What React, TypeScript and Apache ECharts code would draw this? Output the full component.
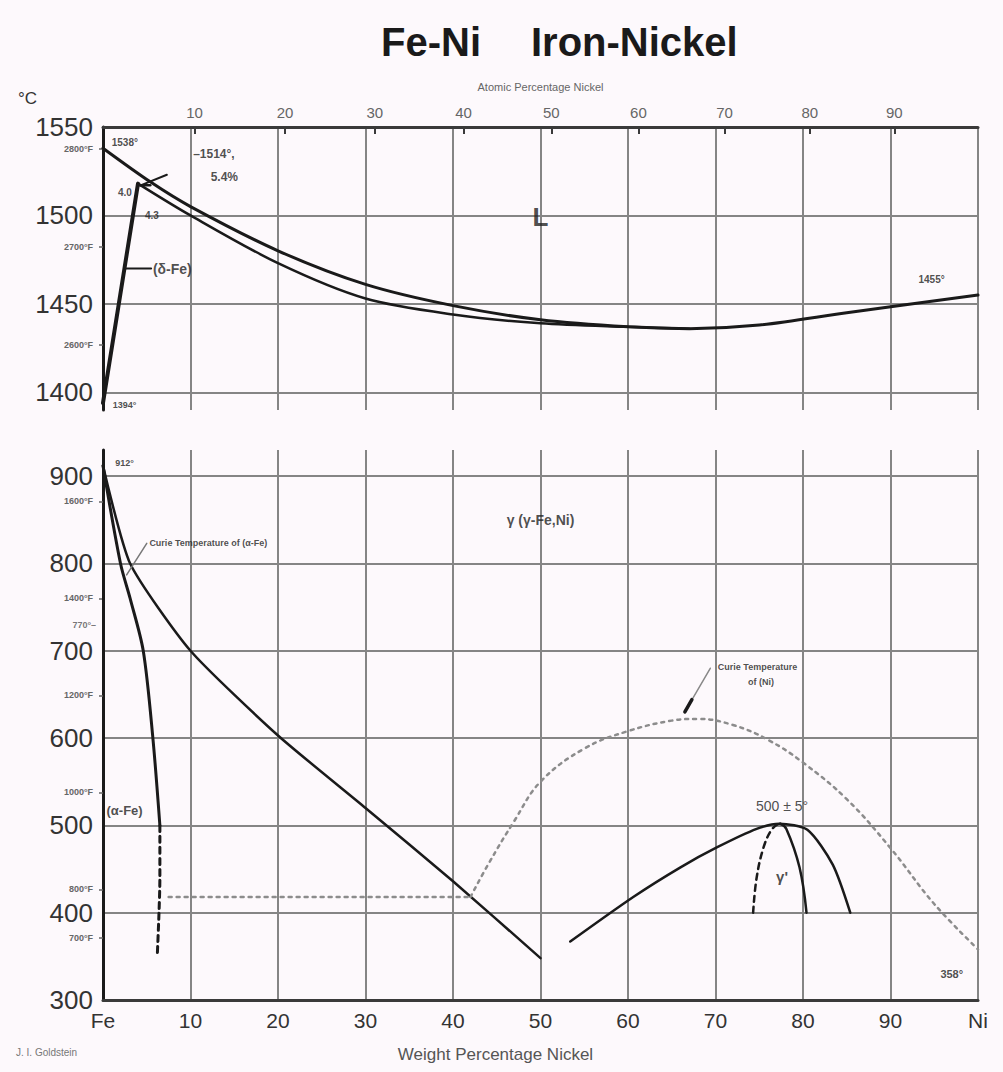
import React, { useEffect, useRef } from "react";
import * as echarts from "echarts";

// ---------- data ----------
const weightTicks = [0, 10, 20, 30, 40, 50, 60, 70, 80, 90, 100];
const weightTickLabels = ["Fe", "10", "20", "30", "40", "50", "60", "70", "80", "90", "Ni"];
const atomicTicks = [10, 20, 30, 40, 50, 60, 70, 80, 90];
const upperTempTicks = [1400, 1450, 1500, 1550];
const lowerTempTicks = [300, 400, 500, 600, 700, 800, 900];
const upperFahrenheitTicks = [2800, 2700, 2600];
const lowerFahrenheitTicks = [1600, 1400, 1200, 1000, 800, 700];

// upper panel (°C vs wt% Ni)
const liquidus = [[0, 1538], [5.4, 1519], [10, 1505], [20, 1480], [30, 1461], [40, 1449], [50, 1441], [60, 1437], [67, 1436], [75, 1438], [85, 1445], [100, 1455]];
const solidus = [[4.0, 1518], [10, 1500], [20, 1473], [30, 1453], [40, 1444], [50, 1439], [60, 1437], [67, 1436]];
const deltaBoundary = [[0, 1394], [4.0, 1518]];
const peritectic = [[4.0, 1517], [5.4, 1517]];
const peritecticLeader = [[4.3, 1517], [7.3, 1523]];
const deltaLeader = [[2.5, 1470], [5.5, 1470]];

// lower panel
const gammaBoundary = [[0, 912], [3.1, 800], [10, 700], [20, 603], [30, 520], [40, 436], [50, 348]];
const alphaBoundary = [[0, 912], [2, 800], [3.1, 760], [4.6, 700], [5.7, 600], [6.5, 500]];
const alphaBoundaryDashed = [[6.5, 500], [6.5, 440], [6.4, 400], [6.2, 350]];
const magneticLow = [[7.5, 418], [42, 418]];
const curieNickel = [[42, 418], [44, 455], [47, 505], [50, 550], [55, 588], [60, 608], [65, 620], [68, 622], [72, 615], [76, 598], [80, 572], [85, 530], [90, 474], [95, 410], [100, 358]];
const orderOuter = [[53.4, 367], [60.6, 418], [66, 452], [70.2, 475], [74.7, 496], [77.3, 502], [80.5, 495], [83.4, 455], [85.4, 400]];
const orderInnerLeft = [[74.3, 400], [74.7, 440], [75.5, 475], [76.4, 495], [77.2, 502]];
const orderInnerRight = [[77.4, 502], [78.1, 496], [79.6, 452], [80.4, 400]];
const alphaCurieLeader = [[2.7, 787], [5.0, 823]];
const nickelCurieLeader = [[66.5, 630], [69.4, 680]];
const nickelCurieArrow = [[66.5, 630], [67.3, 644]];
const fe770Leader = [[-0.9, 743], [0, 760]];

// ---------- helpers ----------
const toWeight = (a: number) => (a * 58.69) / (a * 58.69 + (100 - a) * 55.845) * 100;
const atomicAsWeight = atomicTicks.map(toWeight);
const fToC = (f: number) => ((f - 32) * 5) / 9;
const upperF = upperFahrenheitTicks.map(fToC);
const lowerF = lowerFahrenheitTicks.map(fToC);

const FONT = "Liberation Sans";
const GRID = "#858585";
const DARK = "#3a3a3a";
const INK = "#1a1a1a";

function line(g: number, data: number[][], width: number, opts: any = {}) {
  return {
    type: "line",
    xAxisIndex: g === 0 ? 0 : 2,
    yAxisIndex: g === 0 ? 0 : 2,
    data,
    symbol: "none",
    showSymbol: false,
    silent: true,
    clip: false,
    smooth: opts.smooth ?? 0,
    z: opts.z ?? 5,
    lineStyle: { color: opts.color ?? INK, width, type: opts.type ?? "solid", cap: "round" },
  };
}

function note(g: number, x: number, y: number, text: string, pos: string, size: number, extra: any = {}) {
  return {
    type: "scatter",
    xAxisIndex: g === 0 ? 0 : 2,
    yAxisIndex: g === 0 ? 0 : 2,
    data: [[x, y]],
    symbolSize: 0,
    silent: true,
    clip: false,
    z: 10,
    label: {
      show: true,
      position: pos,
      distance: 0,
      formatter: text,
      fontFamily: FONT,
      fontSize: size,
      color: extra.color ?? "#222",
      fontWeight: extra.fontWeight ?? "normal",
      lineHeight: extra.lineHeight ?? size + 2,
    },
  };
}

const plain = (v: number) => String(Math.round(v));

function buildOption(): any {
  const titleStyle = { fontFamily: FONT, fontWeight: "bold", fontSize: 40, color: INK };
  return {
    animation: false,
    backgroundColor: "#fdf9fc",
    title: [
      { text: "Fe-Ni", left: 376, top: 17, textStyle: titleStyle },
      { text: "Iron-Nickel", left: 526, top: 17, textStyle: titleStyle },
    ],
    graphic: [
      { type: "text", left: 18, top: 90, style: { text: "°C", fontFamily: FONT, fontSize: 17, fill: "#333" } },
      { type: "text", left: 16, top: 1047, style: { text: "J. I. Goldstein", fontFamily: FONT, fontSize: 10, fill: "#777" } },
    ],
    grid: [
      { left: 103, width: 875, top: 127, height: 283 },
      { left: 103, width: 875, top: 450, height: 550 },
    ],
    xAxis: [
      {
        type: "value", gridIndex: 0, min: 0, max: 100, interval: 10, position: "bottom",
        axisLine: { show: false }, axisTick: { show: false }, axisLabel: { show: false },
        splitLine: { show: true, lineStyle: { color: GRID, width: 2 } },
      },
      {
        type: "value", gridIndex: 0, min: 0, max: 100, position: "top",
        axisLine: { show: true, onZero: false, lineStyle: { color: DARK, width: 3 } },
        axisTick: { show: true, inside: true, length: 7, customValues: atomicAsWeight, lineStyle: { color: DARK, width: 2 } },
        axisLabel: {
          customValues: atomicAsWeight, margin: 7, fontFamily: FONT, fontSize: 15, color: "#666",
          formatter: (v: number) => {
            const i = atomicAsWeight.findIndex((w) => Math.abs(w - v) < 1e-6);
            return i >= 0 ? String(atomicTicks[i]) : "";
          },
        },
        splitLine: { show: false },
        name: "Atomic Percentage Nickel", nameLocation: "middle", nameGap: 35,
        nameTextStyle: { fontFamily: FONT, fontSize: 11, color: "#666" },
      },
      {
        type: "value", gridIndex: 1, min: 0, max: 100, interval: 10, position: "bottom",
        axisLine: { show: true, onZero: false, lineStyle: { color: DARK, width: 3 } },
        axisTick: { show: false },
        axisLabel: {
          margin: 10, fontFamily: FONT, fontSize: 21, color: "#333",
          formatter: (v: number) => {
            const i = weightTicks.indexOf(Math.round(v));
            return i >= 0 ? weightTickLabels[i] : "";
          },
        },
        splitLine: { show: true, lineStyle: { color: GRID, width: 2 } },
        name: "Weight Percentage Nickel", nameLocation: "middle", nameGap: 46,
        nameTextStyle: { fontFamily: FONT, fontSize: 17, color: "#555", padding: [0, 90, 0, 0] },
      },
    ],
    yAxis: [
      {
        type: "value", gridIndex: 0, min: 1390, max: 1550, position: "left",
        axisLine: { show: true, onZero: false, lineStyle: { color: INK, width: 3 } },
        axisTick: { show: false, customValues: upperTempTicks },
        axisLabel: { customValues: upperTempTicks, margin: 10, fontFamily: FONT, fontSize: 26, color: "#333", formatter: plain },
        splitLine: { show: true, lineStyle: { color: GRID, width: 2 } },
      },
      {
        type: "value", gridIndex: 0, min: 1390, max: 1550, position: "left",
        axisLine: { show: false },
        axisTick: { show: true, length: 4, customValues: upperF, lineStyle: { color: "#666", width: 1.5 } },
        axisLabel: {
          customValues: upperF, margin: 10, fontFamily: FONT, fontSize: 9, fontWeight: "bold", color: "#666",
          formatter: (v: number) => Math.round((v * 9) / 5 + 32) + "°F",
        },
        splitLine: { show: false },
      },
      {
        type: "value", gridIndex: 1, min: 300, max: 930, position: "left",
        axisLine: { show: true, onZero: false, lineStyle: { color: INK, width: 3 } },
        axisTick: { show: false, customValues: lowerTempTicks },
        axisLabel: { customValues: lowerTempTicks, margin: 10, fontFamily: FONT, fontSize: 26, color: "#333", formatter: plain },
        splitLine: { show: true, lineStyle: { color: GRID, width: 2 } },
      },
      {
        type: "value", gridIndex: 1, min: 300, max: 930, position: "left",
        axisLine: { show: false },
        axisTick: { show: true, length: 4, customValues: lowerF, lineStyle: { color: "#666", width: 1.5 } },
        axisLabel: {
          customValues: lowerF, margin: 10, fontFamily: FONT, fontSize: 9, fontWeight: "bold", color: "#666",
          formatter: (v: number) => Math.round((v * 9) / 5 + 32) + "°F",
        },
        splitLine: { show: false },
      },
    ],
    series: [
      // upper panel
      line(0, liquidus, 3, { smooth: 0.3 }),
      line(0, solidus, 2.5, { smooth: 0.3 }),
      line(0, deltaBoundary, 4),
      line(0, peritectic, 2.5),
      line(0, peritecticLeader, 2),
      line(0, deltaLeader, 2),
      note(0, 1.0, 1541, "1538°", "right", 10, { fontWeight: "bold" }),
      note(0, 3.3, 1513, "4.0", "left", 10, { fontWeight: "bold" }),
      note(0, 4.8, 1500, "4.3", "right", 10, { fontWeight: "bold" }),
      note(0, 10.3, 1535, "–1514°,", "right", 12, { fontWeight: "bold" }),
      note(0, 12.3, 1522, "5.4%", "right", 12, { fontWeight: "bold" }),
      note(0, 5.7, 1470, "(δ-Fe)", "right", 14, { fontWeight: "bold" }),
      note(0, 50, 1499, "L", "inside", 26, { fontWeight: "bold" }),
      note(0, 93.2, 1464, "1455°", "right", 10, { fontWeight: "bold" }),
      note(0, 1.1, 1393, "1394°", "right", 9, { fontWeight: "bold" }),
      // lower panel
      line(1, gammaBoundary, 2.5, { smooth: 0.2 }),
      line(1, alphaBoundary, 3, { smooth: 0.3 }),
      line(1, alphaBoundaryDashed, 3, { type: [6, 5], smooth: 0.3 }),
      line(1, magneticLow, 2.5, { color: "#8c8c8c", type: [3, 5] }),
      line(1, curieNickel, 2.5, { color: "#8c8c8c", type: [3, 5], smooth: 0.4 }),
      line(1, orderOuter, 2.5, { smooth: 0.25 }),
      line(1, orderInnerLeft, 2.5, { type: [6, 5], smooth: 0.4 }),
      line(1, orderInnerRight, 2.5, { smooth: 0.4 }),
      line(1, alphaCurieLeader, 1.5, { color: "#777" }),
      line(1, nickelCurieLeader, 1.5, { color: "#888" }),
      line(1, nickelCurieArrow, 3.5),
      line(1, fe770Leader, 2),
      note(1, 1.4, 915, "912°", "right", 9, { fontWeight: "bold" }),
      note(1, 5.3, 823, "Curie Temperature of (α-Fe)", "right", 9, { fontWeight: "bold" }),
      note(1, 50, 850, "γ (γ-Fe,Ni)", "inside", 14, { fontWeight: "bold" }),
      note(1, 0.4, 517, "(α-Fe)", "right", 13, { fontWeight: "bold" }),
      note(1, -0.8, 729, "770°–", "left", 9, { fontWeight: "bold", color: "#555" }),
      note(1, 74.8, 682, "Curie Temperature", "inside", 9, { fontWeight: "bold" }),
      note(1, 75.2, 664, "of (Ni)", "inside", 9, { fontWeight: "bold" }),
      note(1, 77.6, 522, "500 ± 5°", "inside", 14),
      note(1, 77.6, 441, "γ'", "inside", 15, { fontWeight: "bold" }),
      note(1, 97, 330, "358°", "inside", 11, { fontWeight: "bold" }),
    ],
  };
}

export default function App() {
  const ref = useRef<HTMLDivElement>(null);
  useEffect(() => {
    document.body.style.margin = "0";
    const chart = echarts.init(ref.current!, null, { renderer: "svg" });
    chart.setOption(buildOption());
    return () => chart.dispose();
  }, []);
  return <div ref={ref} style={{ width: 1003, height: 1072 }} />;
}
